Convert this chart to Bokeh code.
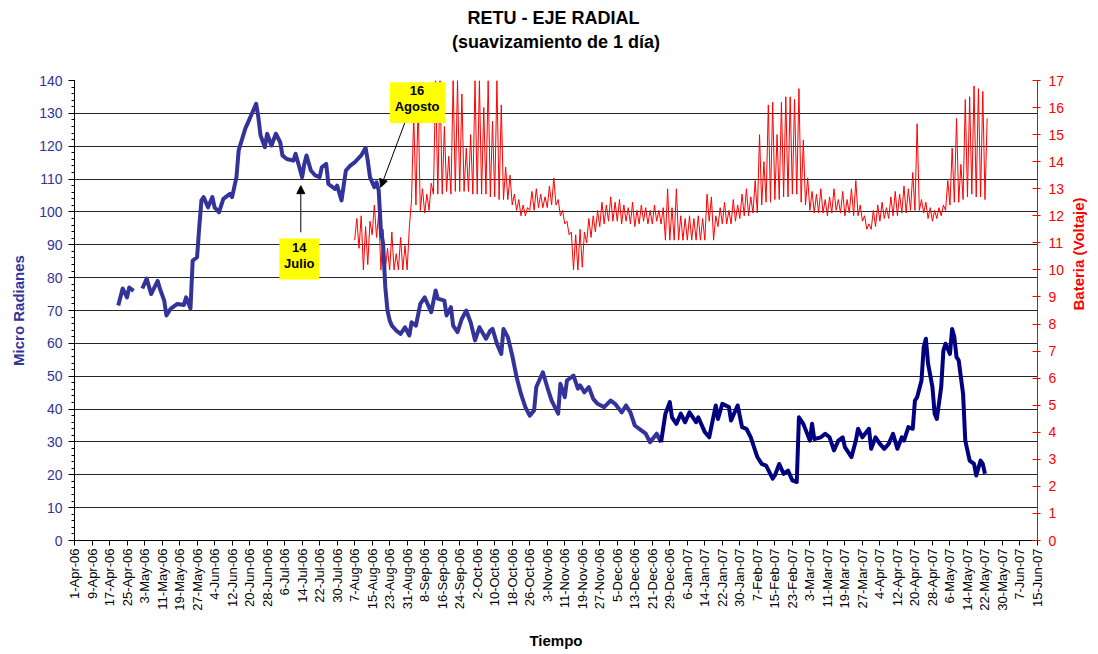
import math
from datetime import datetime, timedelta
from bokeh.plotting import figure
from bokeh.models import (Range1d, LinearAxis, FixedTicker, SingleIntervalTicker, Title,
                          Label, Arrow, NormalHead, BoxAnnotation, ColumnDataSource)
from bokeh.embed import file_html
from bokeh.resources import INLINE

START = datetime(2006, 4, 1)
END = datetime(2007, 6, 15)
NAN = float("nan")

# ---------------- data ----------------
tick_labels = ["1-Apr-06", "9-Apr-06", "17-Apr-06", "25-Apr-06", "3-May-06", "11-May-06", "19-May-06",
               "27-May-06", "4-Jun-06", "12-Jun-06", "20-Jun-06", "28-Jun-06", "6-Jul-06", "14-Jul-06",
               "22-Jul-06", "30-Jul-06", "7-Aug-06", "15-Aug-06", "23-Aug-06", "31-Aug-06", "8-Sep-06",
               "16-Sep-06", "24-Sep-06", "2-Oct-06", "10-Oct-06", "18-Oct-06", "26-Oct-06", "3-Nov-06",
               "11-Nov-06", "19-Nov-06", "27-Nov-06", "5-Dec-06", "13-Dec-06", "21-Dec-06", "29-Dec-06",
               "6-Jan-07", "14-Jan-07", "22-Jan-07", "30-Jan-07", "7-Feb-07", "15-Feb-07", "23-Feb-07",
               "3-Mar-07", "11-Mar-07", "19-Mar-07", "27-Mar-07", "4-Apr-07", "12-Apr-07", "20-Apr-07",
               "28-Apr-07", "6-May-07", "14-May-07", "22-May-07", "30-May-07", "7-Jun-07", "15-Jun-07"]

# Micro Radianes (days after 1-Apr-2006), first stretch
blue1_day = [20, 22, 24, 25, 27, 29, 31, 33, 35, 38, 39, 41, 42, 44, 47, 50, 51, 53, 54, 56,
             57, 58, 59, 61, 63, 64, 66, 68, 71, 72, 74, 75, 78, 79, 81, 83, 84, 85, 87, 88,
             90, 92, 94, 95, 97, 100, 101, 104, 105, 106, 108, 110, 112, 113, 115, 116, 119, 120, 122, 124,
             126, 128, 131, 133, 134, 135, 137, 138, 139, 140, 141, 142, 143, 144, 145, 147, 149, 151, 153, 154,
             156, 158, 160, 163, 165, 166, 169, 170, 172, 173, 175, 177, 179, 181, 183, 185, 188, 190, 191, 193,
             195, 196, 198, 200, 202, 204, 206, 208, 210, 211, 214, 216, 218, 221, 222, 224, 225, 228, 230, 231,
             233, 235, 237, 239, 242, 245, 247, 250, 252, 254, 256, 259, 261, 263, 266, 268]
blue1_val = [71.5, 76.7, 74.0, 77.0, 76.0, NAN, 76.7, 79.7, 75.0, 79.0, 76.7, 73.0, 68.5, 70.6, 72.0, 71.7, 74.0, 70.6, 85.2, 86.2,
             95.4, 103.5, 104.5, 101.4, 104.5, 101.4, 99.9, 104.0, 105.5, 104.5, 110.6, 118.7, 125.3, 126.8, 129.9, 132.9, 128.8, 123.3, 119.7, 123.8,
             120.2, 123.8, 121.2, 117.2, 116.1, 115.6, 117.7, 110.6, 114.6, 117.2, 112.6, 111.1, 110.6, 113.6, 114.6, 108.5, 107.0, 108.0, 103.5, 112.6,
             114.1, 115.1, 117.2, 119.5, 115.6, 110.6, 107.5, 109.0, 106.5, 94.3, 90.3, 77.1, 70.0, 67.0, 65.4, 63.9, 62.9, 64.9, 62.4, 66.4,
             65.4, 72.0, 74.0, 69.5, 76.1, 73.6, 73.0, 68.5, 71.0, 65.4, 63.4, 67.5, 70.0, 66.4, 60.9, 64.9, 61.4, 63.9, 64.4, 59.9,
             56.8, 64.4, 61.9, 56.3, 49.7, 44.6, 40.6, 38.0, 39.6, 46.7, 51.2, 46.7, 42.6, 38.6, 47.7, 43.6, 48.7, 50.2, 46.2, 47.2,
             45.1, 46.7, 43.1, 41.6, 40.6, 42.6, 41.6, 39.0, 41.1, 39.0, 35.0, 33.5, 32.5, 29.9, 32.5, 29.9]

# Micro Radianes, second stretch (darker)
blue2_day = [268, 270, 272, 273, 275, 277, 279, 281, 284, 285, 288, 290, 293, 294, 296, 299, 300, 303, 305, 307,
             309, 312, 314, 316, 319, 320, 322, 324, 326, 328, 330, 331, 333, 336, 337, 338, 341, 343, 345, 347,
             349, 351, 352, 355, 357, 358, 360, 363, 364, 366, 368, 370, 372, 374, 376, 378, 379, 381, 383, 384,
             385, 387, 388, 389, 390, 392, 393, 394, 396, 397, 398, 400, 401, 402, 403, 404, 406, 407, 409, 411,
             412, 414, 415, 416]
blue2_val = [29.9, 38.6, 42.1, 37.5, 35.5, 38.6, 36.0, 39.0, 36.0, 37.5, 33.0, 31.4, 41.1, 37.0, 41.6, 40.6, 36.5, 41.1, 34.5, 34.0,
             31.4, 25.4, 23.3, 22.8, 18.8, 19.8, 23.3, 20.3, 21.3, 18.3, 17.8, 37.5, 35.5, 30.4, 35.5, 30.9, 31.4, 32.5, 31.4, 27.4,
             30.4, 31.4, 28.4, 25.4, 30.4, 34.0, 31.4, 34.0, 27.9, 31.4, 29.4, 27.9, 29.4, 32.5, 27.9, 31.4, 30.4, 34.5, 34.0, 42.6,
             43.6, 48.7, 58.8, 61.4, 53.8, 46.7, 38.6, 37.0, 46.7, 57.8, 59.9, 56.8, 64.4, 61.9, 55.8, 54.8, 44.6, 30.4, 24.3, 23.3,
             19.8, 24.3, 23.3, 20.3]

# Bateria (Voltaje): daily minimum and maximum, sampled every second day
bat_day = [128, 130, 132, 134, 136, 138, 140, 142, 144, 146,
           148, 150, 152, 154, 156, 158, 160, 162, 164, 166,
           168, 170, 172, 174, 176, 178, 180, 182, 184, 186,
           188, 190, 192, 194, 196, 198, 200, 202, 204, 206,
           208, 210, 212, 214, 216, 218, 220, 222, 224, 226,
           228, 230, 232, 234, 236, 238, 240, 242, 244, 246,
           248, 250, 252, 254, 256, 258, 260, 262, 264, 266,
           268, 270, 272, 274, 276, 278, 280, 282, 284, 286,
           288, 290, 292, 294, 296, 298, 300, 302, 304, 306,
           308, 310, 312, 314, 316, 318, 320, 322, 324, 326,
           328, 330, 332, 334, 336, 338, 340, 342, 344, 346,
           348, 350, 352, 354, 356, 358, 360, 362, 364, 366,
           368, 370, 372, 374, 376, 378, 380, 382, 384, 386,
           388, 390, 392, 394, 396, 398, 400, 402, 404, 406,
           408, 410, 412, 414, 416]
bat_low = [11.1, 10.8, 10.0, 10.2, 11.3, 11.2, 10.0, 10.0, 10.0, 10.0,
           10.0, 10.0, 10.0, 12.6, 12.4, 12.2, 12.1, 12.2, 12.8, 12.8,
           12.8, 12.9, 12.8, 12.9, 12.9, 12.9, 12.9, 12.8, 12.8, 12.8,
           12.8, 12.7, 12.7, 12.6, 12.6, 12.6, 12.4, 12.2, 12.0, 12.0,
           12.2, 12.2, 12.3, 12.3, 12.3, 12.4, 12.4, 12.0, 11.7, 11.3,
           10.0, 10.0, 10.1, 11.0, 11.2, 11.4, 11.6, 11.7, 11.8, 11.8,
           11.8, 11.7, 11.8, 11.7, 11.6, 11.7, 11.8, 11.7, 11.7, 11.8,
           11.7, 11.1, 11.1, 11.1, 11.1, 11.1, 11.1, 11.1, 11.1, 11.1,
           11.1, 11.8, 11.1, 11.6, 11.7, 11.7, 11.7, 11.8, 11.9, 12.0,
           12.0, 12.1, 12.1, 12.4, 12.5, 12.5, 12.6, 12.6, 12.7, 12.7,
           12.8, 12.8, 12.5, 12.4, 12.2, 12.1, 12.1, 12.1, 12.0, 12.1,
           12.2, 12.1, 12.0, 12.1, 12.0, 12.0, 11.8, 11.5, 11.5, 11.6,
           11.8, 11.9, 11.9, 12.0, 12.0, 12.1, 12.1, 12.2, 12.2, 12.2,
           12.1, 11.9, 11.8, 11.9, 12.0, 12.2, 12.4, 12.5, 12.5, 12.6,
           12.7, 12.8, 12.7, 12.7, 12.6]
bat_high = [11.9, 12.0, 11.6, 11.8, 12.4, 12.1, 11.5, 10.8, 11.4, 10.6,
            11.2, 10.9, 11.6, 15.8, 16.2, 13.0, 12.8, 13.2, 17.0, 17.0,
            15.3, 14.2, 17.0, 17.0, 16.5, 14.5, 15.0, 17.0, 17.0, 16.0,
            17.0, 15.5, 17.0, 16.1, 13.8, 13.5, 12.8, 12.6, 12.4, 12.3,
            12.9, 13.0, 12.8, 12.7, 13.1, 13.4, 12.6, 12.2, 11.8, 11.4,
            11.3, 11.5, 11.4, 11.9, 12.0, 12.2, 12.5, 12.4, 12.7, 12.5,
            12.6, 12.4, 12.3, 12.5, 12.2, 12.4, 12.3, 12.2, 12.4, 12.2,
            12.3, 13.0, 12.3, 13.0, 12.0, 11.9, 12.0, 11.9, 12.0, 11.9,
            12.8, 12.7, 12.0, 12.3, 12.5, 12.2, 12.6, 12.4, 12.8, 13.0,
            12.7, 13.3, 15.0, 14.0, 16.1, 16.2, 15.0, 16.2, 16.4, 16.4,
            16.3, 16.7, 14.8, 13.4, 12.9, 12.8, 13.0, 12.6, 12.7, 13.0,
            12.6, 12.9, 12.6, 13.0, 13.3, 12.4, 12.0, 11.7, 12.2, 12.4,
            12.5, 12.3, 12.7, 12.9, 12.8, 13.1, 13.0, 13.6, 15.4, 12.6,
            12.5, 12.3, 12.2, 12.3, 12.4, 13.3, 14.5, 15.6, 13.9, 16.3,
            16.4, 16.8, 16.7, 16.6, 15.6]

# ---------------- helpers ----------------
EPOCH = datetime(1970, 1, 1)


def at(day):
    return START + timedelta(days=day)


def ms(d):
    return int((d - EPOCH).total_seconds() * 1000)


FONT = "Liberation Sans"
BLUE_TXT = "#333399"

tick_dates = [datetime.strptime(t, "%d-%b-%y") for t in tick_labels]
tick_ms = [ms(d) for d in tick_dates]

# battery: alternate daily low / high readings
bat_x, bat_y = [], []
for d, lo, hi in zip(bat_day, bat_low, bat_high):
    bat_x += [at(d), at(d + 1)]
    bat_y += [lo, hi]

src_bat = ColumnDataSource(dict(x=bat_x, y=bat_y))
src_b1 = ColumnDataSource(dict(x=[at(d) for d in blue1_day], y=blue1_val))
src_b2 = ColumnDataSource(dict(x=[at(d) for d in blue2_day], y=blue2_val))

# ---------------- figure ----------------
p = figure(width=1098, height=654, x_axis_type="datetime", output_backend="svg",
           toolbar_location=None, x_range=Range1d(START, END), y_range=Range1d(0, 140),
           min_border_left=74, min_border_right=56, min_border_top=80, min_border_bottom=114)
p.outline_line_color = None
p.background_fill_color = "white"
p.border_fill_color = "white"
p.extra_y_ranges = {"bat": Range1d(0, 17)}

p.xgrid.visible = False
p.ygrid.ticker = SingleIntervalTicker(interval=10)
p.ygrid.grid_line_color = "#262626"
p.ygrid.grid_line_width = 1

# x axis
xa = p.xaxis[0]
xa.ticker = FixedTicker(ticks=tick_ms, minor_ticks=[])
xa.major_label_overrides = {t: l for t, l in zip(tick_ms, tick_labels)}
xa.major_label_orientation = math.pi / 2
xa.major_label_text_font = FONT
xa.major_label_text_font_size = "13px"
xa.major_label_text_color = "black"
xa.major_label_standoff = 3
xa.major_tick_out = 5
xa.major_tick_in = 0
xa.minor_tick_line_color = None
xa.axis_line_color = "black"
xa.major_tick_line_color = "black"
xa.axis_label = "Tiempo"
xa.axis_label_text_font = FONT
xa.axis_label_text_font_size = "15px"
xa.axis_label_text_font_style = "bold"
xa.axis_label_text_color = "black"
xa.axis_label_standoff = 18

# left axis
ya = p.yaxis[0]
ya.ticker = SingleIntervalTicker(interval=10, num_minor_ticks=5)
ya.major_label_text_font = FONT
ya.major_label_text_font_size = "14px"
ya.major_label_text_color = BLUE_TXT
ya.major_label_standoff = 6
ya.major_tick_out = 6
ya.major_tick_in = 0
ya.minor_tick_out = 3
ya.minor_tick_in = 0
ya.axis_line_color = "black"
ya.major_tick_line_color = "black"
ya.minor_tick_line_color = "black"
ya.axis_label = "Micro Radianes"
ya.axis_label_text_font = FONT
ya.axis_label_text_font_size = "15px"
ya.axis_label_text_font_style = "bold"
ya.axis_label_text_color = BLUE_TXT
ya.axis_label_standoff = 9

# right axis
ra = LinearAxis(y_range_name="bat", ticker=SingleIntervalTicker(interval=1, num_minor_ticks=0))
ra.major_label_text_font = FONT
ra.major_label_text_font_size = "14px"
ra.major_label_text_color = "#FF0000"
ra.major_label_standoff = 8
ra.major_tick_out = 3
ra.major_tick_in = 5
ra.minor_tick_line_color = None
ra.axis_line_color = "#FF0000"
ra.major_tick_line_color = "#FF0000"
ra.axis_label = "Bateria (Voltaje)"
ra.axis_label_orientation = math.pi / 2
ra.axis_label_standoff = 11
ra.axis_label_text_font = FONT
ra.axis_label_text_font_size = "15px"
ra.axis_label_text_font_style = "bold"
ra.axis_label_text_color = "#FF0000"
p.add_layout(ra, "right")

# titles: the first panel added sits next to the plot (an empty spacer),
# then the subtitle, then the main title
title_style = dict(align="center", text_font=FONT, text_font_size="18px",
                   text_font_style="bold", text_color="black")
p.add_layout(Title(text=" ", standoff=6, **title_style), "above")
p.add_layout(Title(text="(suavizamiento de 1 día)", standoff=2, **title_style), "above")
p.add_layout(Title(text="RETU -  EJE RADIAL", standoff=2, **title_style), "above")

# series
p.line("x", "y", source=src_bat, y_range_name="bat", line_color="#FF0000", line_width=1)
p.line("x", "y", source=src_b1, line_color="#333399", line_width=4, line_join="round")
p.line("x", "y", source=src_b2, line_color="#000080", line_width=4, line_join="round")


# annotations
def box(d0, d1, v0, v1):
    p.add_layout(BoxAnnotation(left=ms(at(d0)), right=ms(at(d1)), bottom=v0, top=v1,
                               fill_color="#FFFF00", fill_alpha=1.0, line_color=None, level="overlay"))


def note(d, v, txt):
    p.add_layout(Label(x=ms(at(d)), y=v, text=txt, text_align="center", text_baseline="middle",
                       text_font=FONT, text_font_size="13px", text_font_style="bold",
                       text_color="black", level="overlay"))


box(93.6, 111.8, 79.4, 91.9)
note(102.7, 89.3, "14")
note(102.7, 84.4, "Julio")
p.add_layout(Arrow(end=NormalHead(size=8, fill_color="black", line_color="black"),
                   x_start=ms(at(103.4)), y_start=93.8, x_end=ms(at(103.4)), y_end=108.0,
                   line_color="black", line_width=1))

box(144.1, 169.4, 127.1, 139.5)
note(156.5, 136.9, "16")
note(156.5, 132.1, "Agosto")
p.add_layout(Arrow(end=NormalHead(size=8, fill_color="black", line_color="black"),
                   x_start=ms(at(150.9)), y_start=127.1, x_end=ms(at(139.9)), y_end=107.5,
                   line_color="black", line_width=1))

open("out.html", "w").write(file_html(p, INLINE))
